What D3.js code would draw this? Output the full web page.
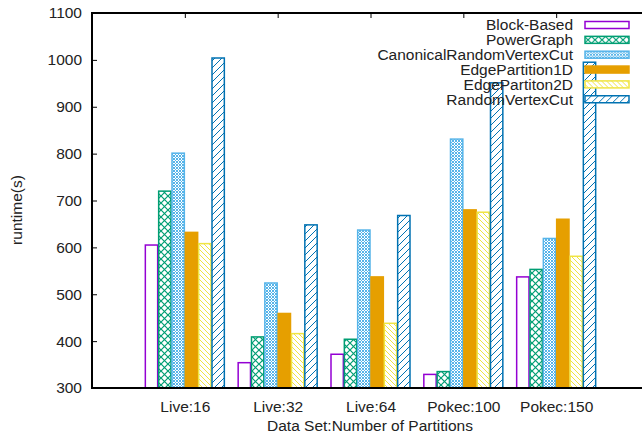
<!DOCTYPE html>
<html>
<head>
<meta charset="utf-8">
<script src="https://cdnjs.cloudflare.com/ajax/libs/d3/7.8.5/d3.min.js"></script>
<style>
  body { margin: 0; background: #fff; }
  text { font-family: "Liberation Sans", Arial, sans-serif; font-size: 15.5px; fill: #222; }
</style>
</head>
<body>
<script>
var categories = ["Live:16", "Live:32", "Live:64", "Pokec:100", "Pokec:150"];
var series = ["Block-Based", "PowerGraph", "CanonicalRandomVertexCut", "EdgePartition1D", "EdgePartiton2D", "RandomVertexCut"];

var blockBased   = [605, 354, 372, 329, 537];
var powerGraph   = [720, 409, 404, 335, 553];
var canonicalRVC = [801, 524, 637, 831, 619];
var edgePart1D   = [632, 459, 537, 680, 660];
var edgePart2D   = [608, 416, 438, 675, 581];
var randomVC     = [1004, 648, 668, 951, 995];

var yTicks = [300, 400, 500, 600, 700, 800, 900, 1000, 1100];

var values = [blockBased, powerGraph, canonicalRVC, edgePart1D, edgePart2D, randomVC];
var colors = ["#9400D3", "#009E73", "#56B4E9", "#E69F00", "#F0E442", "#0072B2"];

var width = 642, height = 439;
var margin = {left: 92, top: 13, bottom: 388, right: 649};

var svg = d3.select("body").append("svg").attr("width", width).attr("height", height);

// fill patterns, gnuplot-like
var defs = svg.append("defs");
function pat(id, size, draw) {
    var p = defs.append("pattern").attr("id", id).attr("patternUnits", "userSpaceOnUse")
        .attr("width", size).attr("height", size);
    p.append("rect").attr("width", size).attr("height", size).attr("fill", "#fff");
    draw(p, size);
}
pat("p0", 4, function(){});
pat("p1", 7, function(p, s){
    p.append("path").attr("d", "M0,0L"+s+","+s+"M"+s+",0L0,"+s).attr("stroke", colors[1]).attr("stroke-width", 1.2);
});
pat("p2", 3, function(p, s){
    p.append("path").attr("d", "M0,0L"+s+","+s+"M"+s+",0L0,"+s).attr("stroke", colors[2]).attr("stroke-width", 1);
});
pat("p3", 4, function(p, s){
    p.append("rect").attr("width", s).attr("height", s).attr("fill", colors[3]);
});
pat("p4", 5, function(p, s){
    p.append("path").attr("d", "M0,0L"+s+","+s+"M-1,"+(s-1)+"L1,"+(s+1)+"M"+(s-1)+",-1L"+(s+1)+",1").attr("stroke", colors[4]).attr("stroke-width", 1);
});
pat("p5", 7, function(p, s){
    p.append("path").attr("d", "M0,"+s+"L"+s+",0M-1,1L1,-1M"+(s-1)+","+(s+1)+"L"+(s+1)+","+(s-1)).attr("stroke", colors[5]).attr("stroke-width", 1);
});

var y = d3.scaleLinear().domain([300, 1100]).range([margin.bottom, margin.top]);
var x = d3.scaleLinear().domain([-1, 5]).range([margin.left, margin.right]);
var xs = d3.scaleBand().domain(series).range([-40, 40]);

// bars
series.forEach(function(s, i) {
    svg.append("g").selectAll("rect")
        .data(values[i])
        .enter()
        .append("rect")
            .attr("x", function(d, j) { return x(j) + xs(s) + 0.5; })
            .attr("y", function(d) { return y(d); })
            .attr("width", xs.bandwidth() - 1)
            .attr("height", function(d) { return y(300) - y(d); })
            .attr("fill", "url(#p" + i + ")")
            .attr("stroke", colors[i])
            .attr("stroke-width", 1.5);
});

// axes
var yAxis = d3.axisLeft(y).tickValues(yTicks).tickSize(-5).tickPadding(10).tickFormat(d3.format("d"));
var gy = svg.append("g").attr("transform", "translate(" + margin.left + ",0)").call(yAxis);
gy.select(".domain").remove();
gy.selectAll("line").attr("stroke", "#000");

var xAxis = d3.axisBottom(x).tickValues(d3.range(categories.length)).tickSize(0).tickPadding(13)
    .tickFormat(function(d) { return categories[d]; });
var gx = svg.append("g").attr("transform", "translate(0," + margin.bottom + ")").call(xAxis);
gx.select(".domain").remove();

var xTop = d3.axisTop(x).tickValues(d3.range(categories.length)).tickSize(-5).tickFormat("");
var gt = svg.append("g").attr("transform", "translate(0," + margin.top + ")").call(xTop);
gt.select(".domain").remove();
gt.selectAll("line").attr("stroke", "#000");

svg.selectAll(".tick text").style("font-size", "15.5px").style("font-family", "Liberation Sans, Arial, sans-serif").attr("fill", "#222");

// border
svg.append("path")
    .attr("d", "M" + margin.right + "," + margin.top + "H" + margin.left + "V" + margin.bottom + "H" + margin.right)
    .attr("fill", "none").attr("stroke", "#000").attr("stroke-width", 2);

// legend
var leg = svg.append("g").selectAll("g").data(series).enter().append("g")
    .attr("transform", function(d, i) { return "translate(0," + (25 + i * 14.85) + ")"; });
leg.append("text").attr("x", 573).attr("y", 0).attr("dy", "0.35em").attr("text-anchor", "end")
    .text(function(d) { return d; });
leg.append("rect").attr("x", 585).attr("y", -3.5).attr("width", 44).attr("height", 7)
    .attr("fill", function(d, i) { return "url(#p" + i + ")"; })
    .attr("stroke", function(d, i) { return colors[i]; })
    .attr("stroke-width", 1.5);

// labels
svg.append("text").attr("text-anchor", "middle").attr("x", 370).attr("y", 431)
    .text("Data Set:Number of Partitions");
svg.append("text").attr("text-anchor", "middle")
    .attr("transform", "translate(22,210) rotate(270)")
    .text("runtime(s)");
</script>
</body>
</html>
